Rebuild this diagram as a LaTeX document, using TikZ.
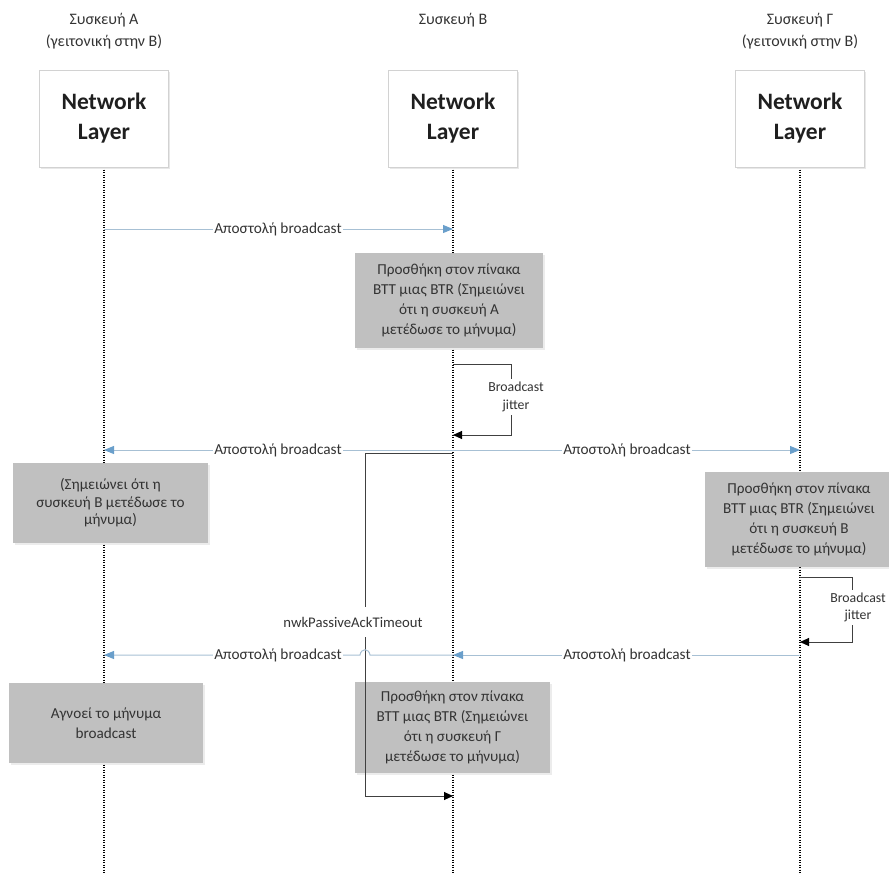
\documentclass[tikz,border=0pt]{standalone}
\usepackage{fontspec}
\setmainfont{Carlito}
\usetikzlibrary{arrows.meta,shadows}

\definecolor{notegray}{HTML}{C0C0C0}
\definecolor{msgline}{HTML}{A7C0D4}
\definecolor{msghead}{HTML}{6A9FCB}
\definecolor{headborder}{HTML}{D2D2D2}
\definecolor{txt}{HTML}{333333}

\begin{document}
\begin{tikzpicture}[x=1pt,y=-1pt,
  lifehead/.style={draw=headborder, fill=white, minimum width=129pt, minimum height=97pt,
    inner sep=0pt, align=center, text=black!88,
    font=\bfseries\fontsize{23.5}{30}\selectfont,
    drop shadow={opacity=0.18, shadow xshift=1.5pt, shadow yshift=-1.5pt}},
  devlabel/.style={align=center, text=txt, font=\fontsize{16}{22}\selectfont},
  lifeline/.style={line width=1.2pt, dash pattern=on 1.2pt off 1.3pt},
  msg/.style={draw=msgline, line width=1pt,
    -{Triangle[length=10pt,width=8pt,color=msghead]}},
  msglabel/.style={fill=white, inner xsep=1pt, inner ysep=2pt, text=txt,
    font=\fontsize{15.3}{17}\selectfont},
  note/.style={fill=notegray, text=txt, align=center, inner sep=0pt,
    font=\fontsize{15.2}{20}\selectfont,
    drop shadow={opacity=0.15, shadow xshift=1.5pt, shadow yshift=-1.5pt}},
  selfloop/.style={draw=black!75, line width=1pt,
    -{Triangle[length=9pt,width=8pt,color=black]}},
  looplabel/.style={fill=white, inner xsep=1pt, inner ysep=3pt, align=center, text=txt,
    font=\fontsize{13.8}{17.5}\selectfont},
]
\useasboundingbox (0,0) rectangle (889,873);
\clip (0,0) rectangle (889,873);

% device captions
\node[devlabel] (capA) at (104,31) {Συσκευή A\\(γειτονική στην B)};
\node[devlabel] (capB) at (453,20) {Συσκευή B};
\node[devlabel] (capC) at (800,31) {Συσκευή Γ\\(γειτονική στην B)};

% lifelines
\coordinate (endA) at (104,873);
\coordinate (endB) at (453,873);
\coordinate (endC) at (800,873);
\draw[lifeline] (104,167) -- (endA);
\draw[lifeline] (453,167) -- (endB);
\draw[lifeline] (800,167) -- (endC);

% lifeline heads
\node[lifehead] (headA) at (104,118.5) {Network\\Layer};
\node[lifehead] (headB) at (453,118.5) {Network\\Layer};
\node[lifehead] (headC) at (800,118.5) {Network\\Layer};

% notes on the lifelines
\node[note, minimum width=188pt, minimum height=95pt] (noteB1) at (449,300.5)
  {Προσθήκη στον πίνακα\\BTT μιας BTR (Σημειώνει\\ότι η συσκευή A\\μετέδωσε το μήνυμα)};
\node[note, minimum width=195pt, minimum height=80pt,
  font=\fontsize{15.2}{17.5}\selectfont] (noteA1) at (110.5,503)
  {(Σημειώνει ότι η\\συσκευή B μετέδωσε το\\μήνυμα)};
\node[note, minimum width=188pt, minimum height=95pt] (noteC1) at (799,519.5)
  {Προσθήκη στον πίνακα\\BTT μιας BTR (Σημειώνει\\ότι η συσκευή B\\μετέδωσε το μήνυμα)};
\node[note, minimum width=194pt, minimum height=80pt] (noteA2) at (106,723)
  {Αγνοεί το μήνυμα\\broadcast};
\node[note, minimum width=195pt, minimum height=91pt] (noteB2) at (452.5,727.5)
  {Προσθήκη στον πίνακα\\BTT μιας BTR (Σημειώνει\\ότι η συσκευή Γ\\μετέδωσε το μήνυμα)};

% message end points on the lifelines
\coordinate (a1) at (104,229);  \coordinate (b1) at (453,229);
\coordinate (a2) at (104,450);  \coordinate (b2) at (453,450);  \coordinate (c2) at (800,450);
\coordinate (a3) at (104,655);  \coordinate (b3) at (453,655);  \coordinate (c3) at (800,655);

% broadcast messages
\draw[msg] (a1) -- (b1);
\node[msglabel] (l1) at (278,229) {Αποστολή broadcast};

\draw[msg] (b2) -- (a2);
\node[msglabel] (l2a) at (278,450) {Αποστολή broadcast};
\draw[msg] (b2) -- (c2);
\node[msglabel] (l2c) at (627,450) {Αποστολή broadcast};

\draw[msg] (c3) -- (b3);
\node[msglabel] (l3c) at (627,655) {Αποστολή broadcast};

% passive-ack timeout frame
\coordinate (t0) at (453,453);
\coordinate (t1) at (365,453);
\coordinate (t2) at (365,796);
\coordinate (t3) at (453,796);
\draw[selfloop] (t0) -- (t1) -- (t2) -- (t3);
\node[fill=white, inner xsep=1pt, inner ysep=10pt, text=txt,
  font=\fontsize{14.7}{16}\selectfont] (timeout) at (353,622) {nwkPassiveAckTimeout};

% B -> A message hopping over the frame line
\coordinate (hopR) at (370,655);
\coordinate (hopL) at (360,655);
\draw[msg] (b3) -- (hopR) .. controls (369,648) and (361,648) .. (hopL) -- (a3);
\node[msglabel] (l3a) at (278,655) {Αποστολή broadcast};

% broadcast jitter self loops
\coordinate (j1s) at (453,364);
\coordinate (j1r) at (511,364);
\coordinate (j1b) at (511,435);
\coordinate (j1e) at (453,435);
\draw[selfloop] (j1s) -- (j1r) -- (j1b) -- (j1e);
\node[looplabel] (jit1) at (516,397) {Broadcast\\jitter};

\coordinate (j2s) at (800,577);
\coordinate (j2r) at (852,577);
\coordinate (j2b) at (852,642);
\coordinate (j2e) at (800,642);
\draw[selfloop] (j2s) -- (j2r) -- (j2b) -- (j2e);
\node[looplabel] (jit2) at (858,607.5) {Broadcast\\jitter};
\end{tikzpicture}
\end{document}
